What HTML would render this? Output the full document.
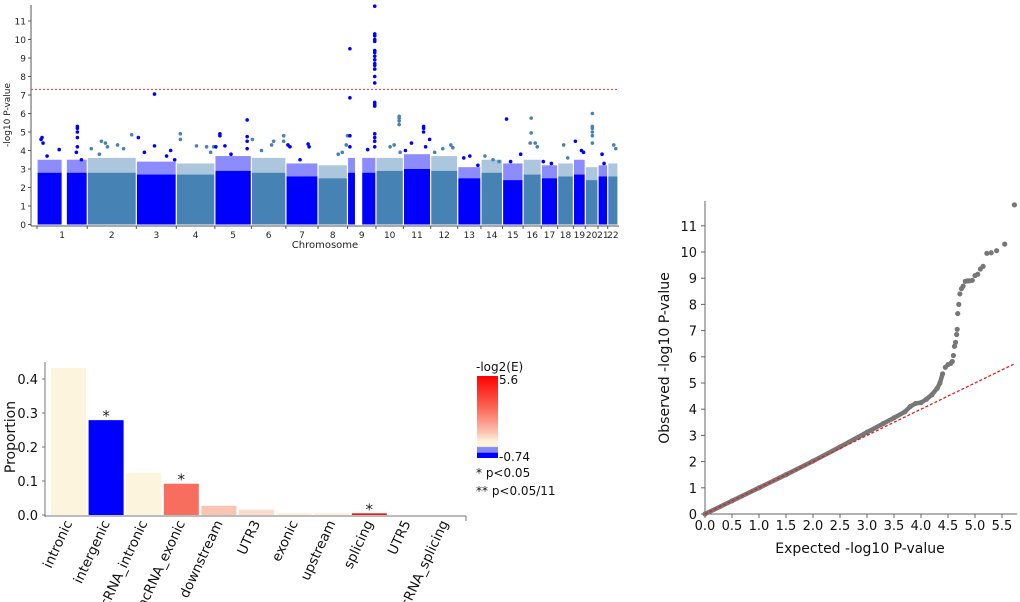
<!DOCTYPE html>
<html><head><meta charset="utf-8"><style>
body{margin:0;background:#fff}
svg{display:block;font-family:"DejaVu Sans","Liberation Sans",sans-serif}
</style></head><body>
<svg id="s" width="1020" height="602" viewBox="0 0 1020 602">
<g id="man"></g>
<g id="bar"></g>
<g id="qq"></g>
</svg>
<script>
// ---------- Manhattan data ----------
const chrLens=[249,243,198,191,181,171,159,146,141,136,135,134,115,107,102,90,81,78,59,63,48,51];
const chrBandTop=[2.8,2.8,2.7,2.7,2.9,2.8,2.6,2.5,2.8,2.9,3.0,2.9,2.5,2.8,2.4,2.7,2.5,2.6,2.7,2.4,2.6,2.6];
const chrFringeTop=[3.5,3.6,3.4,3.3,3.7,3.6,3.3,3.2,3.6,3.6,3.8,3.7,3.1,3.5,3.3,3.5,3.2,3.3,3.5,3.1,3.2,3.3];
const chrGaps=[[125,145],null,null,null,null,null,null,null,[40,70],null,null,null,null,null,null,null,null,null,null,null,null,null];
// [chromosome, position Mb, -log10 p]
const manPoints=[
[1,20,4.6],[1,25,4.7],[1,30,4.4],[1,50,3.7],[1,110,4.05],[1,200,5.3],[1,200,5.2],[1,200,5.0],[1,200,4.7],[1,200,4.2],[1,195,3.9],[1,220,3.5],
[2,20,4.1],[2,70,4.5],[2,90,4.4],[2,100,4.2],[2,150,4.3],[2,180,4.1],[2,220,4.85],[2,60,3.8],
[3,10,4.7],[3,40,3.9],[3,90,7.05],[3,90,4.25],[3,150,3.7],[3,170,4.0],[3,190,3.5],
[4,20,4.9],[4,20,4.6],[4,100,4.25],[4,150,4.2],[4,170,3.9],[4,185,4.2],
[5,5,4.2],[5,25,4.9],[5,25,4.8],[5,50,4.25],[5,80,3.8],[5,160,5.65],[5,160,4.75],[5,160,4.5],[5,160,4.1],
[6,5,4.6],[6,50,4.0],[6,100,4.3],[6,110,4.5],[6,160,4.8],[6,160,4.5],
[7,10,4.3],[7,20,4.2],[7,110,4.35],[7,115,4.2],[7,70,3.5],
[8,100,3.8],[8,120,3.9],[8,146,4.8],[8,140,4.3],
[9,12,9.5],[9,12,6.85],[9,12,4.8],[9,12,4.2],[9,100,4.05],
[9,135,11.8],[9,135,10.3],[9,135,10.2],[9,135,10.0],[9,135,9.9],[9,135,9.4],[9,135,9.3],[9,135,9.1],[9,135,8.9],[9,135,8.7],[9,135,8.6],[9,135,8.4],[9,135,8.0],[9,135,7.65],[9,135,6.6],[9,135,6.5],[9,135,6.4],[9,135,4.9],[9,135,4.7],[9,135,4.5],[9,135,4.2],
[10,70,4.2],[10,90,4.3],[10,115,5.85],[10,115,5.75],[10,115,5.6],[10,115,5.4],[10,120,3.9],
[11,10,4.0],[11,40,4.4],[11,100,5.3],[11,100,5.2],[11,100,5.0],[11,110,4.2],[11,130,4.6],
[12,20,3.9],[12,60,4.1],[12,100,4.3],[12,110,4.15],
[13,30,3.6],[13,60,3.7],[13,100,3.2],
[14,20,3.7],[14,60,3.5],[14,90,3.4],
[15,20,5.7],[15,40,3.4],[15,90,3.8],
[16,40,5.75],[16,40,4.95],[16,35,4.4],[16,60,4.4],[16,70,4.2],
[17,10,3.4],[17,50,3.3],
[18,30,4.3],[18,50,3.6],
[19,10,4.5],[19,40,4.0],[19,50,3.9],
[20,35,6.0],[20,35,5.3],[20,35,5.2],[20,35,5.0],[20,35,4.8],[20,35,4.4],
[21,20,3.8],[21,30,3.3],
[22,30,4.3],[22,40,4.1]
];
const manYTicks=[0,1,2,3,4,5,6,7,8,9,10,11];
const sigLine=7.3;

// ---------- Bar data ----------
const barCats=["intronic","intergenic","ncRNA_intronic","ncRNA_exonic","downstream","UTR3","exonic","upstream","splicing","UTR5","ncRNA_splicing"];
const barVals=[0.432,0.279,0.124,0.092,0.027,0.016,0.006,0.006,0.005,0,0];
const barColors=["#fdf4de","#0000ff","#fdf4de","#f86e5e","#f9c4b2","#fbdccc","#fdf0e0","#fdf0e0","#e41e1e","#fdf0e0","#fdf0e0"];
const barStars=["","*","","*","","","","","*","",""];
const barYTicks=[0,0.1,0.2,0.3,0.4];

// ---------- QQ data ----------
const qqExp=[0,0.5,1,1.5,2,2.5,3,3.3,3.5,3.7,3.8,3.9,4.0,4.1,4.2,4.3,4.35,4.4,4.45,4.5,4.55,4.58,4.6,4.62,4.64,4.66,4.67,4.68,4.7,4.72,4.75,4.78,4.82,4.86,4.9,4.95,5.0,5.05,5.1,5.15,5.22,5.3,5.4,5.55,5.73];
const qqObs=[0,0.5,1.0,1.5,2.02,2.56,3.12,3.45,3.67,3.9,4.1,4.22,4.25,4.38,4.55,4.8,5.0,5.35,5.6,5.7,5.75,5.82,6.05,6.4,6.55,6.85,7.05,7.65,8.0,8.4,8.6,8.7,8.88,8.9,8.9,8.92,9.1,9.15,9.35,9.45,9.95,9.97,10.05,10.3,11.8];
const qqXTicks=[0,0.5,1,1.5,2,2.5,3,3.5,4,4.5,5,5.5];
const qqYTicks=[0,1,2,3,4,5,6,7,8,9,10,11];

const NS="http://www.w3.org/2000/svg";
function mk(parent,tag,attrs,text){const e=document.createElementNS(NS,tag);for(const k in attrs)e.setAttribute(k,attrs[k]);if(text!==undefined)e.textContent=text;parent.appendChild(e);return e;}

// ===== Manhattan =====
(function(){
const g=document.getElementById('man');
const total=chrLens.reduce((a,b)=>a+b,0);
const cum=[];let c=0;chrLens.forEach(l=>{cum.push(c);c+=l;});
const x0=37,x1=618;
const xs=(chr,pos)=>x0+(cum[chr-1]+pos)/total*(x1-x0);
const ys=v=>224.5-v*18.5;
let a=mk(g,'line',{x1:31,y1:5,x2:31,y2:226,stroke:'#555','stroke-width':1});

a=mk(g,'line',{x1:31,y1:226,x2:619,y2:226,stroke:'#555','stroke-width':1});

manYTicks.forEach(t=>{
 let l=mk(g,'line',{x1:28,y1:ys(t),x2:31,y2:ys(t),stroke:'#555'});
 
 let tx=mk(g,'text',{x:26,y:ys(t)+3.5,'font-size':9,'text-anchor':'end',fill:'#222'},t);
 
});
chrLens.forEach((len,i)=>{
 const chr=i+1,col=chr%2?'#0000ff':'#4682b4';
 const segs=chrGaps[i]?[[0,chrGaps[i][0]],[chrGaps[i][1],len]]:[[0,len]];
 segs.forEach(s=>{
  const xa=xs(chr,s[0])+0.6,w=Math.max(1,xs(chr,s[1])-xs(chr,s[0])-1.2);
  const f=mk(g,'rect',{x:xa,y:ys(chrFringeTop[i]),width:w,height:ys(chrBandTop[i])-ys(chrFringeTop[i]),fill:col,opacity:0.45});
  
  const r=mk(g,'rect',{x:xa,y:ys(chrBandTop[i]),width:w,height:ys(0)-ys(chrBandTop[i]),fill:col});
  
 });
 const bx=xs(chr,0);
 let tk=mk(g,'line',{x1:bx,y1:226,x2:bx,y2:229,stroke:'#555'});
 
 let lb=mk(g,'text',{x:xs(chr,len/2),y:238,'font-size':9,'text-anchor':'middle',fill:'#222'},chr);
 
});
manPoints.forEach(p=>{
 const d=mk(g,'circle',{cx:xs(p[0],p[1]),cy:ys(p[2]),r:1.8,fill:p[0]%2?'#0000ff':'#4682b4'});
 
});
let sl=mk(g,'line',{x1:31,y1:ys(sigLine),x2:619,y2:ys(sigLine),stroke:'#e05050','stroke-width':1.2,'stroke-dasharray':'2,2'});

let t=mk(g,'text',{x:0,y:0,'font-size':9,'text-anchor':'middle',fill:'#222',transform:'translate(10,115) rotate(-90)'},'-log10 P-value');

t=mk(g,'text',{x:325,y:248,'font-size':10,'text-anchor':'middle',fill:'#222'},'Chromosome');

})();

// ===== Bar chart =====
(function(){
const g=document.getElementById('bar');
const ys=v=>515-v*340;
const step=37.6,bx0=51,bw=35;
let a=mk(g,'line',{x1:45,y1:362,x2:45,y2:517,stroke:'#777'});

a=mk(g,'line',{x1:45,y1:516,x2:466,y2:516,stroke:'#777'});

a=mk(g,'line',{x1:466,y1:516,x2:466,y2:521,stroke:'#777'});

barYTicks.forEach(v=>{
 let l=mk(g,'line',{x1:42,y1:ys(v),x2:45,y2:ys(v),stroke:'#777'});
 
 let tx=mk(g,'text',{x:38,y:ys(v)+5,'font-size':13,'text-anchor':'end',fill:'#111'},v.toFixed(1));
 
});
barCats.forEach((c,i)=>{
 const x=bx0+i*step;
 if(barVals[i]>0){
  const r=mk(g,'rect',{x:x,y:ys(barVals[i]),width:bw,height:ys(0)-ys(barVals[i]),fill:barColors[i]});
  
 }
 if(barStars[i]){
  const s=mk(g,'text',{x:x+bw/2,y:ys(barVals[i])+1,'font-size':15,'text-anchor':'middle',fill:'#222'},barStars[i]);
  
 }
 const cx=x+bw/2+4;
 const lb=mk(g,'text',{x:0,y:0,'font-size':13.5,'text-anchor':'end',fill:'#111',transform:`translate(${cx},523) rotate(-65)`},c);
 
});
let t=mk(g,'text',{x:0,y:0,'font-size':14,'text-anchor':'middle',fill:'#111',transform:'translate(15,437) rotate(-90)'},'Proportion');

const defs=mk(g,'defs',{});
const lg=mk(defs,'linearGradient',{id:'cb',x1:0,y1:0,x2:0,y2:1});
[[0,'#ff0000'],[0.4,'#fb6a5a'],[0.7,'#fbc8b6'],[0.8,'#fdf4de'],[0.86,'#fdf4de'],[0.87,'#8888f4'],[0.93,'#8888f4'],[0.94,'#0000ff'],[1,'#0000ff']].forEach(s=>mk(lg,'stop',{offset:s[0],'stop-color':s[1]}));
let cb=mk(g,'rect',{x:477,y:376,width:21,height:82,fill:'url(#cb)'});

t=mk(g,'text',{x:476,y:371,'font-size':12,fill:'#111'},'-log2(E)');

t=mk(g,'text',{x:499,y:384,'font-size':12,fill:'#111'},'5.6');

t=mk(g,'text',{x:499,y:461,'font-size':12,fill:'#111'},'-0.74');

t=mk(g,'text',{x:476,y:477,'font-size':12,fill:'#111'},'* p<0.05');

t=mk(g,'text',{x:476,y:495,'font-size':12,fill:'#111'},'** p<0.05/11');

})();

// ===== QQ plot =====
(function(){
const g=document.getElementById('qq');
const xs=v=>705+v*54;
const ys=v=>514-v*26.2;
let a=mk(g,'line',{x1:705,y1:201,x2:705,y2:514,stroke:'#666'});

a=mk(g,'line',{x1:705,y1:514,x2:1017,y2:514,stroke:'#666'});

qqXTicks.forEach(v=>{
 let l=mk(g,'line',{x1:xs(v),y1:514,x2:xs(v),y2:518,stroke:'#666'});
 
 let tx=mk(g,'text',{x:xs(v),y:530,'font-size':13,'text-anchor':'middle',fill:'#111'},v.toFixed(1));
 
});
qqYTicks.forEach(v=>{
 let l=mk(g,'line',{x1:701,y1:ys(v),x2:705,y2:ys(v),stroke:'#666'});
 
 let tx=mk(g,'text',{x:697,y:ys(v)+5,'font-size':13,'text-anchor':'end',fill:'#111'},v);
 
});
const dense=[];qqExp.forEach((e,i)=>{if(e<=4.4)dense.push(xs(e)+','+ys(qqObs[i]));});
let pl=mk(g,'polyline',{points:dense.join(' '),fill:'none',stroke:'#777','stroke-width':4.5,'stroke-linecap':'round','stroke-linejoin':'round'});

qqExp.forEach((e,i)=>{
 const d=mk(g,'circle',{cx:xs(e),cy:ys(qqObs[i]),r:2.6,fill:'#777'});
 
});
const mx=qqExp[qqExp.length-1];
let rl=mk(g,'line',{x1:xs(0),y1:ys(0),x2:xs(mx),y2:ys(mx),stroke:'#e02020','stroke-width':1.3,'stroke-dasharray':'3,2'});

let t=mk(g,'text',{x:860,y:553,'font-size':14,'text-anchor':'middle',fill:'#111'},'Expected -log10 P-value');

t=mk(g,'text',{x:0,y:0,'font-size':14,'text-anchor':'middle',fill:'#111',transform:'translate(669,358) rotate(-90)'},'Observed -log10 P-value');

})();
</script>
</body></html>
